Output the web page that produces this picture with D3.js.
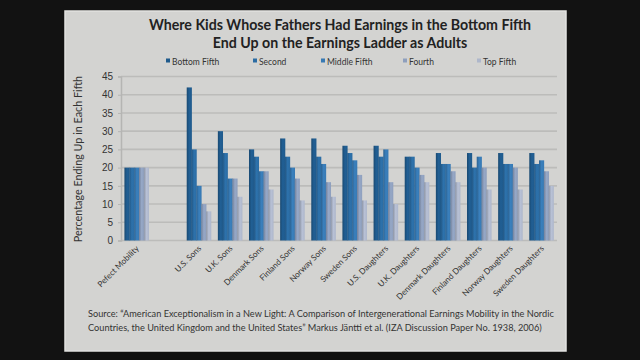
<!DOCTYPE html>
<html><head><meta charset="utf-8">
<script src="https://cdn.jsdelivr.net/npm/d3@7"></script>
<style>body{margin:0;background:#121212;} svg{display:block;font-family:Lato, "Open Sans", sans-serif;}</style>
</head><body>
<svg id="c" width="640" height="360"></svg>
<script>
const categories = ["Pefect Mobility", "", "U.S. Sons", "U.K. Sons", "Denmark Sons", "Finland Sons", "Norway Sons", "Sweden Sons", "U.S. Daughters", "U.K. Daughters", "Denmark Daughters", "Finland Daughters", "Norway Daughters", "Sweden Daughters"];
const seriesNames = ["Bottom Fifth", "Second", "Middle Fifth", "Fourth", "Top Fifth"];
const bottomFifth = [20, null, 42, 30, 25, 28, 28, 26, 26, 23, 24, 24, 24, 24];
const second      = [20, null, 25, 24, 23, 23, 23, 24, 23, 23, 21, 20, 21, 21];
const middleFifth = [20, null, 15, 17, 19, 20, 21, 22, 25, 20, 21, 23, 21, 22];
const fourth      = [20, null, 10, 17, 19, 17, 16, 18, 16, 18, 19, 20, 20, 19];
const topFifth    = [20, null, 8, 12, 14, 11, 12, 11, 10, 16, 16, 14, 14, 15];
const yTicks = [0, 5, 10, 15, 20, 25, 30, 35, 40, 45];
const seriesValues = [bottomFifth, second, middleFifth, fourth, topFifth];
const colors = ["#1f5a8c", "#2b6ca3", "#3779b3", "#8e9fbd", "#aeb7cb"];

const svg = d3.select("#c");
const defs = svg.append("defs");
colors.forEach((c, i) => {
  const g = defs.append("linearGradient").attr("id", "g" + i).attr("x1", 0).attr("x2", 1).attr("y1", 0).attr("y2", 0);
  const col = d3.color(c);
  g.append("stop").attr("offset", "0%").attr("stop-color", col.darker(0.6));
  g.append("stop").attr("offset", "50%").attr("stop-color", col.brighter(0.15));
  g.append("stop").attr("offset", "100%").attr("stop-color", col);
});

// panel
svg.append("rect").attr("x", 65).attr("y", 11).attr("width", 501).attr("height", 340)
  .attr("fill", "#d3d3d1").attr("stroke", "#e2e2e0").attr("stroke-width", 1.5);

const x0 = d3.scaleBand().domain(categories.map((d, i) => i)).range([121, 557]).paddingInner(0.22).paddingOuter(0.11);
const x1 = d3.scaleBand().domain(d3.range(5)).range([0, x0.bandwidth()]);
const y = d3.scaleLinear().domain([0, 45]).range([240.5, 76.5]);

// gridlines
svg.append("g").selectAll("line").data(yTicks).join("line")
  .attr("x1", 121).attr("x2", 557).attr("y1", d => y(d)).attr("y2", d => y(d))
  .attr("stroke", "#bcbcba").attr("stroke-width", 1.6);

// y axis
const yAxis = d3.axisLeft(y).tickValues(yTicks).tickSize(3).tickPadding(5);
const ya = svg.append("g").attr("transform", "translate(121,0)").call(yAxis);
ya.select(".domain").attr("stroke", "#b5b5b3").attr("stroke-width", 1.5);
ya.selectAll(".tick line").attr("stroke", "#b5b5b3");
ya.selectAll("text").attr("font-size", 10).attr("fill", "#333");

// bars
const groups = svg.append("g").selectAll("g").data(categories.map((c, i) => i)).join("g")
  .attr("transform", i => `translate(${x0(i)},0)`);
groups.selectAll("rect").data(i => seriesValues.map((s, k) => ({k, v: s[i]})).filter(d => d.v != null))
  .join("rect")
  .attr("x", d => x1(d.k)).attr("width", x1.bandwidth() + 0.3)
  .attr("y", d => y(d.v)).attr("height", d => y(0) - y(d.v))
  .attr("fill", d => `url(#g${d.k})`);

// x labels
svg.append("g").selectAll("text").data(categories.map((c, i) => i).filter(i => categories[i] !== "")).join("text")
  .attr("transform", i => `translate(${x0(i) + x0.bandwidth() / 2 + 3},249) rotate(-45)`)
  .attr("text-anchor", "end").attr("font-size", 8.2).attr("fill", "#333")
  .text(i => categories[i]);

// y label
svg.append("text").attr("transform", "translate(82,159) rotate(-90)")
  .attr("text-anchor", "middle").attr("font-size", 10.8).attr("fill", "#333")
  .text("Percentage Ending Up in Each Fifth");

// title
const title = svg.append("text").attr("text-anchor", "middle").attr("font-weight", "bold")
  .attr("font-size", 14.2).attr("fill", "#222");
title.append("tspan").attr("x", 340).attr("y", 30).text("Where Kids Whose Fathers Had Earnings in the Bottom Fifth");
title.append("tspan").attr("x", 340).attr("y", 48).text("End Up on the Earnings Ladder as Adults");

// legend
const legX = [166, 253, 321, 403, 477];
const leg = svg.append("g").selectAll("g").data(seriesNames).join("g")
  .attr("transform", (d, i) => `translate(${legX[i]},62)`);
leg.append("rect").attr("x", 0).attr("y", -3.5).attr("width", 4).attr("height", 4).attr("fill", (d, i) => colors[i]);
leg.append("text").attr("x", 6).attr("y", 0.5).attr("dominant-baseline", "middle")
  .attr("font-size", 8.5).attr("fill", "#333").text(d => d);

// source
const src = svg.append("text").attr("font-size", 9.2).attr("fill", "#333");
src.append("tspan").attr("x", 88).attr("y", 317).text("Source: \u201CAmerican Exceptionalism in a New Light: A Comparison of Intergenerational Earnings Mobility in the Nordic");
src.append("tspan").attr("x", 88).attr("y", 331).text("Countries, the United Kingdom and the United States\u201D Markus J\u00E4ntti et al. (IZA Discussion Paper No. 1938, 2006)");
</script>
</body></html>
